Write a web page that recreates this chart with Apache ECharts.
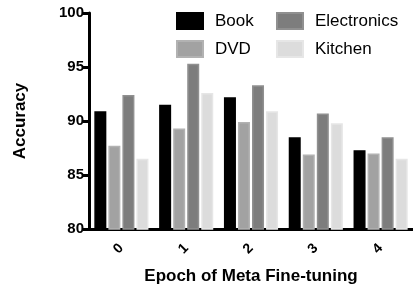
<!DOCTYPE html>
<html>
<head>
<meta charset="utf-8">
<script src="https://cdn.jsdelivr.net/npm/echarts@6/dist/echarts.min.js"></script>
<style>
  html, body { margin: 0; padding: 0; background: #fff; }
  #chart { width: 413px; height: 291px; }
</style>
</head>
<body>
<div id="chart"></div>
<script>
  // data
  var epochs = ['0', '1', '2', '3', '4'];
  var book = [90.9, 91.5, 92.2, 88.5, 87.3];
  var dvd = [87.7, 89.3, 89.9, 86.9, 87.0];
  var electronics = [92.4, 95.3, 93.3, 90.7, 88.5];
  var kitchen = [86.5, 92.6, 90.9, 89.8, 86.5];
  var yTicks = [80, 85, 90, 95, 100];

  var font = 'Liberation Sans, Arial, sans-serif';

  function bar(name, data, fill, border) {
    return {
      name: name,
      type: 'bar',
      data: data,
      barWidth: 12,
      barGap: '17%',
      itemStyle: { color: fill, borderColor: border, borderWidth: 1.5 }
    };
  }

  var legendCommon = {
    orient: 'vertical',
    top: 12,
    padding: 0,
    icon: 'rect',
    itemWidth: 26, itemHeight: 16, itemGap: 10,
    textStyle: { fontSize: 17, color: '#000', padding: [0, 0, 0, 7] }
  };

  var myChart = echarts.init(document.getElementById('chart'));
  myChart.setOption({
    animation: false,
    textStyle: { fontFamily: font },
    legend: [
      Object.assign({}, legendCommon, { left: 176, data: ['Book', 'DVD'] }),
      Object.assign({}, legendCommon, { left: 276, data: ['Electronics', 'Kitchen'] })
    ],
    grid: { left: 89, top: 13, width: 327, height: 216 },
    xAxis: {
      type: 'category',
      data: epochs,
      name: 'Epoch of Meta Fine-tuning',
      nameLocation: 'middle',
      nameGap: 39,
      nameTextStyle: { fontSize: 17, fontWeight: 'bold', color: '#000' },
      axisLine: { lineStyle: { color: '#000', width: 3 } },
      axisTick: { alignWithLabel: true, length: 6, lineStyle: { width: 3, color: '#000' } },
      axisLabel: { rotate: 45, fontSize: 14, fontWeight: 'bold', color: '#000', margin: 17 }
    },
    yAxis: {
      type: 'value',
      min: yTicks[0],
      max: yTicks[yTicks.length - 1],
      interval: 5,
      name: 'Accuracy',
      nameLocation: 'middle',
      nameGap: 60,
      nameTextStyle: { fontSize: 17, fontWeight: 'bold', color: '#000' },
      splitLine: { show: false },
      axisLine: { show: true, lineStyle: { color: '#000', width: 3 } },
      axisTick: { show: true, length: 6, lineStyle: { width: 3, color: '#000' } },
      axisLabel: { fontSize: 15, fontWeight: 'bold', color: '#000', margin: 5 }
    },
    series: [
      bar('Book', book, '#000000', '#000000'),
      bar('DVD', dvd, '#a2a2a2', '#b2b2b2'),
      bar('Electronics', electronics, '#7d7d7d', '#909090'),
      bar('Kitchen', kitchen, '#dcdcdc', '#e6e6e6')
    ]
  });
</script>
</body>
</html>
